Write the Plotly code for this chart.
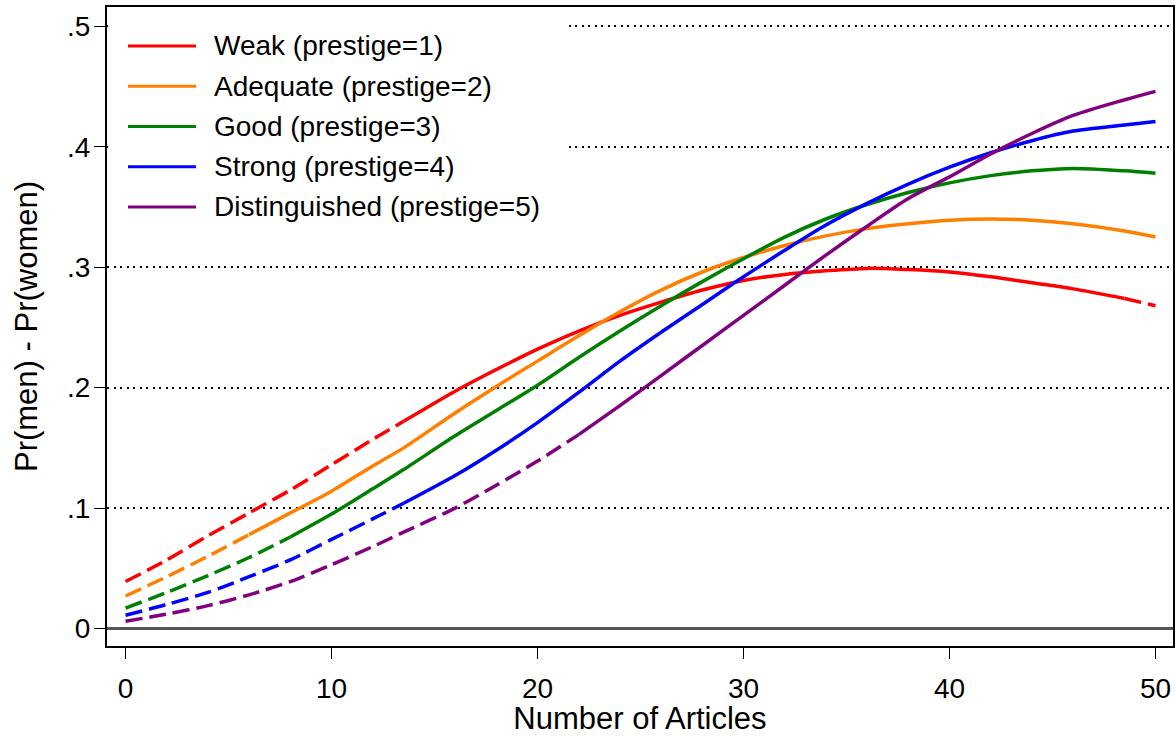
import plotly.graph_objects as go

# Number of articles at which the predicted gap is evaluated
articles = [0, 2, 4, 6, 8, 10, 12, 13.5, 16, 18, 20, 22, 24, 26, 28, 30,
            32, 34, 36, 38, 40, 42, 44, 46, 48.5, 50]

# Pr(men) - Pr(women) by prestige of the PhD department
weak = [0.039, 0.057, 0.077, 0.096, 0.115, 0.136, 0.157, 0.172, 0.197, 0.215,
        0.232, 0.247, 0.260, 0.271, 0.281, 0.289, 0.294, 0.297, 0.299, 0.298,
        0.296, 0.292, 0.287, 0.282, 0.274, 0.268]
adequate = [0.027, 0.043, 0.060, 0.078, 0.096, 0.114, 0.135, 0.150, 0.179, 0.201,
            0.222, 0.243, 0.263, 0.281, 0.296, 0.308, 0.318, 0.326, 0.332, 0.336,
            0.339, 0.340, 0.339, 0.336, 0.330, 0.325]
good = [0.017, 0.030, 0.044, 0.059, 0.076, 0.095, 0.116, 0.132, 0.160, 0.181,
        0.202, 0.225, 0.247, 0.268, 0.288, 0.307, 0.325, 0.340, 0.352, 0.362,
        0.370, 0.376, 0.380, 0.382, 0.380, 0.378]
strong = [0.011, 0.020, 0.030, 0.043, 0.057, 0.074, 0.091, 0.104, 0.127, 0.148,
          0.171, 0.196, 0.222, 0.246, 0.269, 0.292, 0.314, 0.335, 0.353, 0.369,
          0.383, 0.395, 0.405, 0.413, 0.418, 0.421]
distinguished = [0.006, 0.012, 0.019, 0.028, 0.039, 0.053, 0.068, 0.080, 0.100, 0.119,
                 0.139, 0.161, 0.185, 0.210, 0.235, 0.260, 0.285, 0.310, 0.334, 0.357,
                 0.375, 0.394, 0.411, 0.426, 0.439, 0.446]

series_values = [weak, adequate, good, strong, distinguished]
series_names = ["Weak (prestige=1)", "Adequate (prestige=2)", "Good (prestige=3)",
                "Strong (prestige=4)", "Distinguished (prestige=5)"]
series_colors = ["#ff0000", "#ff8000", "#008000", "#0000ff", "#800080"]

# Range of articles over which each difference is significant (solid line)
sig_start = [13.5, 6, 8, 13.5, 22]
sig_end = [48.5, 50, 50, 50, 50]

y_ticks = [0, 0.1, 0.2, 0.3, 0.4, 0.5]
y_tick_text = ["0", ".1", ".2", ".3", ".4", ".5"]
x_ticks = [0, 10, 20, 30, 40, 50]

FONT = "Liberation Sans, Arial, Helvetica, sans-serif"
W, H = 1175, 736
ML, MR, MT, MB = 107, 2, 7, 90

fig = go.Figure()

for vals, name, color, s0, s1 in zip(series_values, series_names, series_colors,
                                      sig_start, sig_end):
    i0 = articles.index(s0)
    i1 = articles.index(s1)
    pieces = [
        (0, i0, "17px,7px"),
        (i0, i1, "solid"),
        (i1, len(articles) - 1, "17px,7px"),
    ]
    for a, b, dash in pieces:
        if b <= a:
            continue
        fig.add_trace(go.Scatter(
            x=articles[a:b + 1], y=vals[a:b + 1], mode="lines", name=name,
            line=dict(color=color, width=3.5, dash=dash, shape="spline", smoothing=0.8),
            showlegend=False, hoverinfo="skip",
        ))

# Legend drawn as a white panel with line keys and labels
pw = W - ML - MR
ph = H - MT - MB


def px_to_paper(px, py):
    return (px - ML) / pw, (H - MB - py) / ph


shapes = []
annotations = []
bx0, by0 = px_to_paper(ML, 238)
bx1, by1 = px_to_paper(565, MT + 2)
shapes.append(dict(type="rect", xref="paper", yref="paper", x0=bx0 + 0.001, x1=bx1,
                   y0=by0, y1=by1, fillcolor="white", line=dict(width=0),
                   layer="above"))
for i, (name, color) in enumerate(zip(series_names, series_colors)):
    row_y = 46 + i * 40.25
    lx0, ly = px_to_paper(128, row_y)
    lx1, _ = px_to_paper(196, row_y)
    tx, _ = px_to_paper(212, row_y)
    shapes.append(dict(type="line", xref="paper", yref="paper", x0=lx0, x1=lx1,
                       y0=ly, y1=ly, line=dict(color=color, width=3), layer="above"))
    annotations.append(dict(xref="paper", yref="paper", x=tx, y=ly, text=name,
                            showarrow=False, xanchor="left", yanchor="middle",
                            font=dict(family=FONT, size=28, color="black")))

fig.update_layout(
    width=W, height=H,
    margin=dict(l=ML, r=MR, t=MT, b=MB),
    plot_bgcolor="white", paper_bgcolor="white",
    showlegend=False,
    font=dict(family=FONT, color="black", size=28),
    shapes=shapes, annotations=annotations,
)

fig.update_xaxes(
    range=[-0.9, 50.85], tickvals=x_ticks, ticks="outside", ticklen=11,
    tickwidth=1, tickcolor="black", showline=True, linecolor="black", linewidth=2,
    mirror=True, showgrid=False, zeroline=False, automargin=False,
    tickfont=dict(family=FONT, size=28, color="black"), ticklabelstandoff=5,
    title=dict(text="Number of Articles", font=dict(family=FONT, size=31, color="black"),
               standoff=11),
)

fig.update_yaxes(
    range=[-0.0145, 0.516], tickvals=y_ticks, ticktext=y_tick_text,
    ticks="outside", ticklen=11, tickwidth=1, tickcolor="black",
    showline=True, linecolor="black", linewidth=2, mirror=True,
    showgrid=True, gridcolor="black", gridwidth=2, griddash="2px,4.5px",
    zeroline=True, zerolinecolor="#555555", zerolinewidth=3, automargin=False,
    tickfont=dict(family=FONT, size=28, color="black"), ticklabelstandoff=-2,
    title=dict(text="Pr(men) - Pr(women)", font=dict(family=FONT, size=31, color="black"),
               standoff=20),
)

fig.write_html("out.html")
